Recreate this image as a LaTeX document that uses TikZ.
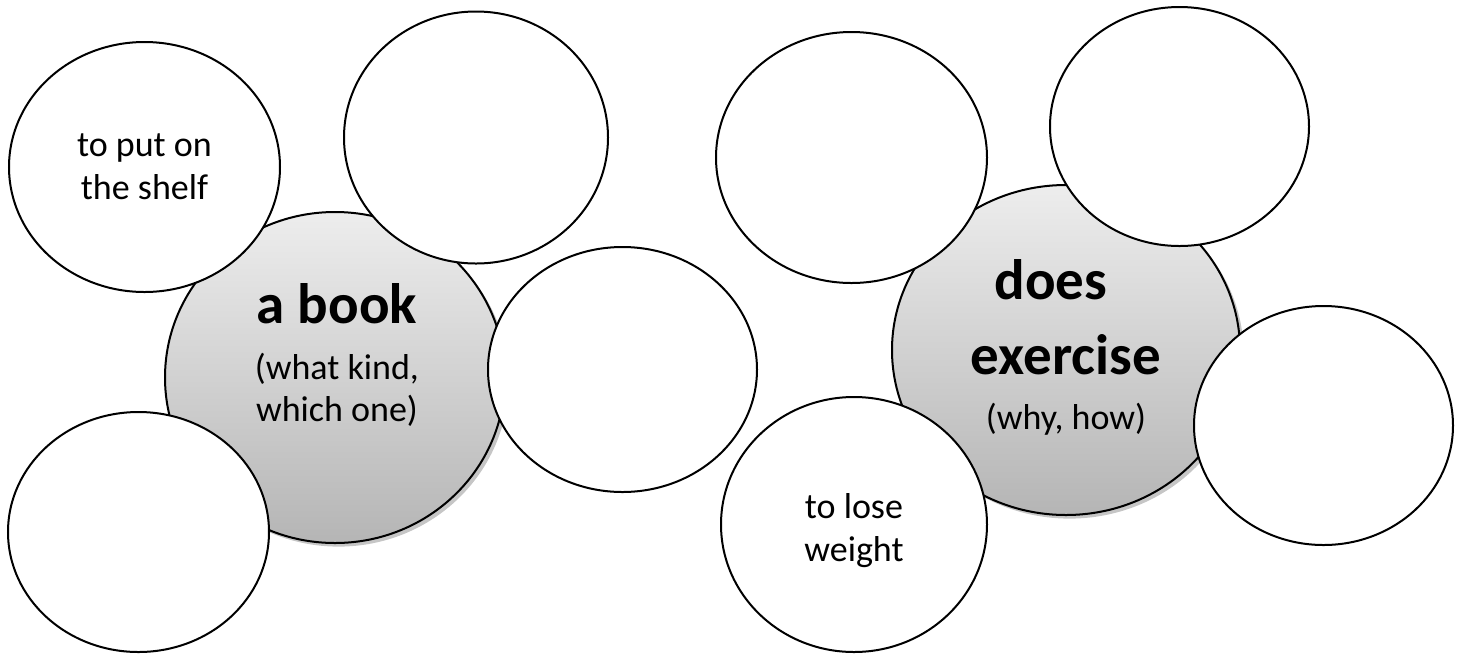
\documentclass[tikz,border=0pt]{standalone}
\usepackage{fontspec}
\setmainfont{Carlito}
\usetikzlibrary{shapes.geometric,shadows}

\definecolor{hubtop}{gray}{0.93}
\definecolor{hubbot}{gray}{0.71}

\newcommand{\bigword}[1]{{\fontsize{28.5}{30}\selectfont\bfseries #1}}

\tikzset{
  bubble/.style={ellipse, draw, line width=1pt, fill=white, inner sep=0pt,
    align=center, font=\fontsize{18}{21.5}\selectfont},
  hub/.style={ellipse, draw, line width=1pt, inner sep=0pt,
    top color=hubtop, bottom color=hubbot,
    drop shadow={shadow xshift=1.8pt, shadow yshift=-1.8pt, opacity=.45}},
  hubtext/.style={align=center, inner sep=0pt, font=\fontsize{18}{21}\selectfont},
}

\begin{document}
\begin{tikzpicture}[x=0.5pt,y=-0.5pt]
  \useasboundingbox (0,0) rectangle (1458,655);

  % a book
  \node[hub, minimum width=170pt, minimum height=165.5pt] (book) at (335,377.5) {};
  \node[hubtext] (booktxt) at (337,355)
    {\bigword{a book}\\[7pt] (what kind,\\ which one)};
  \node[bubble, minimum width=135.5pt, minimum height=125pt] (shelf) at (144.5,167)
    {to put on\\the shelf};
  \node[bubble, minimum width=132pt, minimum height=126pt] (booknorth) at (476,137.5) {};
  \node[bubble, minimum width=134.5pt, minimum height=122.5pt] (bookeast) at (622.5,369.5) {};
  \node[bubble, minimum width=130.5pt, minimum height=120pt] (booksouth) at (138.5,532) {};

  % does exercise
  \node[hub, minimum width=174pt, minimum height=165pt] (exer) at (1066,350) {};
  \node[hubtext] (exertxt) at (1066,347)
    {\bigword{does\hspace*{15pt}}\\[16.5pt] \bigword{exercise}\\[6.5pt] (why, how)};
  \node[bubble, minimum width=135.5pt, minimum height=125.5pt] (exerwest) at (851.5,157.5) {};
  \node[bubble, minimum width=129.5pt, minimum height=119.5pt] (exernorth) at (1179.5,126.5) {};
  \node[bubble, minimum width=129.5pt, minimum height=119.5pt] (exereast) at (1323.5,425.5) {};
  \node[bubble, minimum width=133pt, minimum height=127.5pt] (weight) at (854,524.5) {};
  \node[hubtext, font=\fontsize{18}{21.5}\selectfont] (weighttxt) at (854,531)
    {to lose\\weight};

\end{tikzpicture}
\end{document}
